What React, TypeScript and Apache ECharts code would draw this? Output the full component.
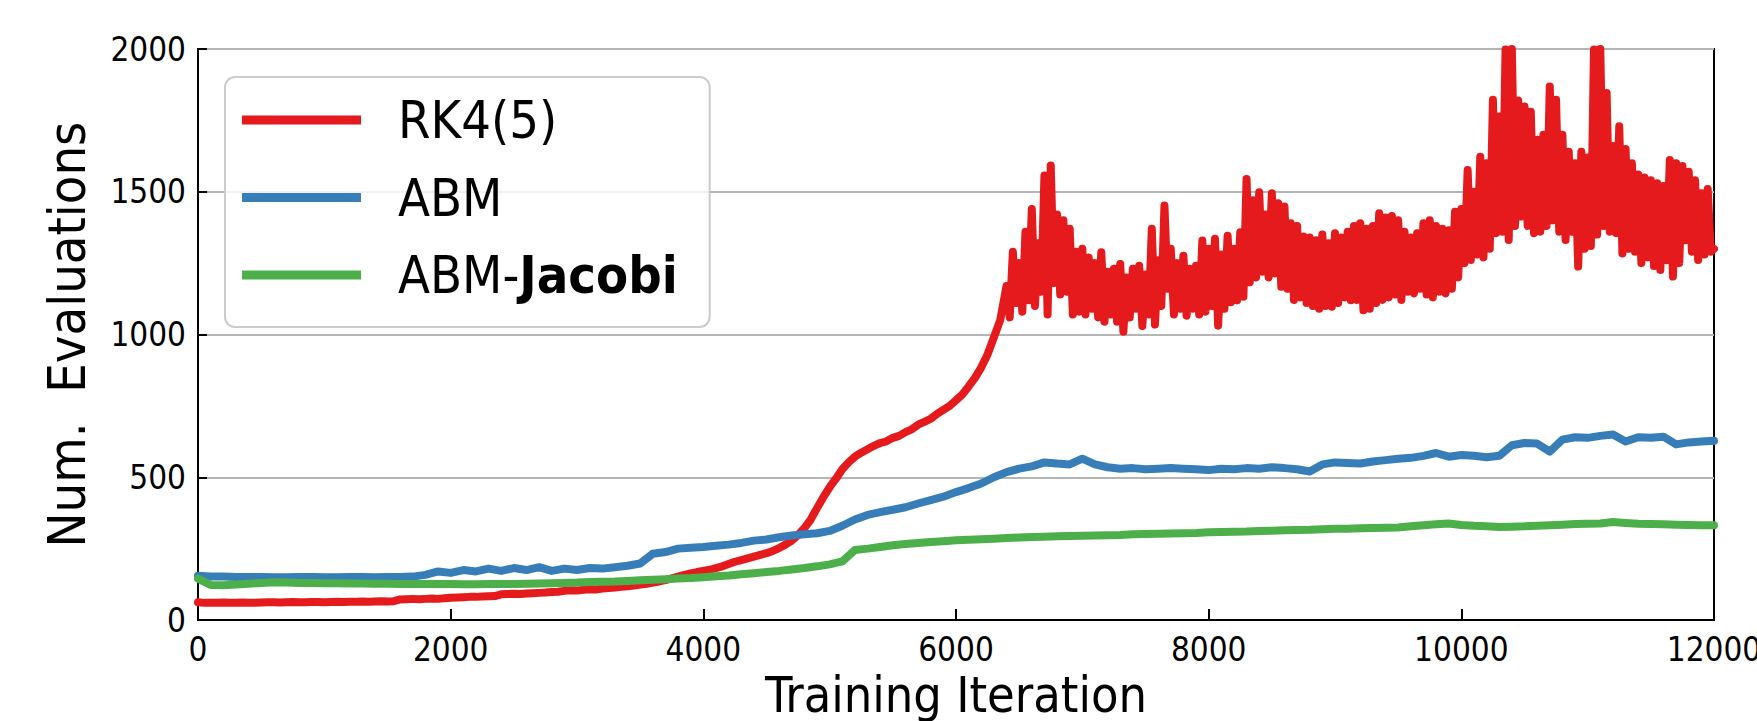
import React, { useEffect, useRef } from 'react';
import * as echarts from 'echarts';

// sampling steps (training iterations between consecutive readings)
const RED_SMOOTH_STEP = 50;     // RK4(5) from 0 to 6350
const RED_NOISY_START = 6400;   // RK4(5) noisy part starts here
const RED_NOISY_STEP = 25;      // RK4(5) from 6400 to 12000
const STEP = 100;               // ABM and ABM-Jacobi

const seriesNames = ['RK4(5)', 'ABM', 'ABM-Jacobi'];
const seriesColors = ['#e41a1c', '#377eb8', '#4daf4a'];

// RK4(5), every 50 iterations, 0..6350
const redSmoothValues = [
  62, 60, 60, 60, 61, 60, 60, 61, 60, 60, 61, 62, 62, 61, 62, 63, 62, 62, 63, 63, 62, 63, 64, 63, 64, 64, 65, 64, 65, 66, 65, 66,
  72, 73, 74, 73, 74, 75, 74, 76,
  78, 79, 80, 81, 81, 82, 83, 84,
  90, 91, 92, 91, 93, 94, 95, 96, 98, 99,
  102, 104, 103, 106, 108, 107, 110, 112, 114, 116, 118,
  121, 124, 127, 131, 135, 140, 146, 152, 158, 163, 168,
  172, 176, 182, 188, 196, 204, 210, 216, 222, 228,
  234, 242, 252, 264, 278, 298, 322, 352, 392, 430,
  465, 495, 528, 552, 572, 586, 598, 610, 620, 626,
  638, 645, 658, 668, 684, 694, 705, 722, 736, 750,
  770, 790, 818, 848, 885, 930, 990, 1050,
];

// RK4(5), every 25 iterations, 6400..12000 (alternating upper / lower edge of the noise)
const redNoisyValues = [
  1170, 1060, 1290, 1110, 1250, 1080, 1360, 1120, 1440, 1100,
  1320, 1150, 1557, 1070, 1592, 1180, 1420, 1140, 1400, 1150,
  1370, 1070, 1290, 1080, 1300, 1070, 1270, 1090, 1250, 1060,
  1288, 1045, 1220, 1070, 1230, 1045, 1247, 1010, 1200, 1060,
  1230, 1090, 1241, 1030, 1210, 1070, 1370, 1035, 1260, 1100,
  1452, 1160, 1300, 1070, 1250, 1090, 1276, 1066, 1230, 1090,
  1241, 1070, 1329, 1080, 1300, 1100, 1335, 1031, 1280, 1090,
  1346, 1113, 1300, 1120, 1358, 1132, 1545, 1183, 1470, 1200,
  1498, 1220, 1420, 1200, 1495, 1214, 1460, 1167, 1448, 1160,
  1390, 1121, 1380, 1130, 1343, 1110, 1340, 1100, 1330, 1090,
  1350, 1100, 1320, 1097, 1355, 1110, 1340, 1130, 1360, 1120,
  1380, 1121, 1390, 1085, 1370, 1090, 1380, 1110, 1425, 1121,
  1410, 1130, 1415, 1140, 1400, 1121, 1360, 1150, 1340, 1144,
  1355, 1160, 1390, 1140, 1400, 1130, 1380, 1150, 1370, 1144,
  1365, 1160, 1430, 1200, 1440, 1250, 1576, 1261, 1500, 1280,
  1623, 1270, 1600, 1300, 1822, 1355, 1764, 1360, 1998, 1331,
  2000, 1380, 1820, 1413, 1799, 1380, 1780, 1355, 1682, 1360,
  1700, 1380, 1869, 1400, 1822, 1360, 1700, 1331, 1640, 1360,
  1600, 1238, 1640, 1300, 1620, 1310, 1998, 1350, 2000, 1380,
  1846, 1360, 1660, 1355, 1729, 1284, 1650, 1300, 1600, 1290,
  1560, 1250, 1550, 1270, 1540, 1240, 1530, 1226, 1520, 1260,
  1611, 1203, 1600, 1250, 1590, 1330, 1570, 1290, 1540, 1261,
  1495, 1280, 1510, 1290,
  1300,
];

// ABM, every 100 iterations, 0..12000
const blueValues = [
  155, 152, 152, 151, 151, 151, 150, 150, 151, 151, 150, 150, 151, 151, 150, 151, 151, 152,
  158, 170, 165, 175, 170, 180, 172, 182, 175, 185, 172, 180, 175, 182, 180, 185, 190, 198,
  232, 238, 250, 253, 256, 260, 264, 270, 278, 282, 290, 296, 300, 304, 312,
  330, 352, 368, 378, 386, 395, 408, 420, 432, 448, 462, 478, 500, 518, 530,
  538, 552, 548, 545, 565, 545, 535, 530, 532, 528, 530, 532, 530, 528, 525,
  530, 528, 532, 530, 535, 532, 528, 520, 545, 552, 550, 548, 555, 560, 565,
  568, 575, 585, 572, 578, 575, 570, 575, 612, 620, 618, 590, 632, 640, 638,
  645, 650, 625, 640, 638, 642, 615, 622, 625, 628,
];

// ABM-Jacobi, every 100 iterations, 0..12000
const greenValues = [
  145, 123, 122, 124, 127, 130, 132, 131, 130, 130, 129, 129, 128, 128, 127, 127, 126, 126,
  126, 126, 126, 125, 125, 126, 126, 126, 127, 128, 129, 130, 131, 133, 134, 135, 137, 139,
  141, 143, 145, 147, 150, 153, 156, 160, 164, 168, 172, 177, 182, 188, 195,
  205, 245, 250, 256, 262, 266, 270, 273, 276, 279, 281, 283, 285, 287, 289,
  291, 292, 293, 294, 295, 296, 297, 298, 300, 301, 302, 303, 304, 305, 307,
  308, 309, 310, 312, 313, 314, 315, 316, 318, 320, 320, 321, 322, 323, 324,
  328, 332, 335, 338, 333, 330, 328, 326, 327, 328, 330, 332, 334, 336, 337,
  338, 343, 340, 337, 336, 335, 334, 333, 332, 332,
];

const X_MIN = 0;
const X_MAX = 12000;
const X_INTERVAL = 2000;
const Y_MIN = 0;
const Y_MAX = 2000;
const Y_INTERVAL = 500;

const xAxisTitle = 'Training Iteration';
const yAxisTitle = 'Num.  Evaluations';

const FONT = "'DejaVu Sans Condensed', 'Liberation Sans', sans-serif";

function toPairs(values: number[], step: number, start = 0) {
  return values.map((v, i) => [start + i * step, v]);
}

export default function App() {
  const ref = useRef<HTMLDivElement>(null);

  useEffect(() => {
    document.body.style.margin = '0';
    if (!ref.current) return;
    const chart = echarts.init(ref.current, undefined, { renderer: 'svg' });
    const redData = toPairs(redSmoothValues, RED_SMOOTH_STEP).concat(
      toPairs(redNoisyValues, RED_NOISY_STEP, RED_NOISY_START)
    );
    const allData = [redData, toPairs(blueValues, STEP), toPairs(greenValues, STEP)];
    chart.setOption({
      animation: false,
      backgroundColor: '#ffffff',
      grid: {
        left: 198,
        right: 43,
        top: 49,
        bottom: 101,
        outerBoundsMode: 'none',
        containLabel: false,
        show: true,
        borderColor: '#000',
        borderWidth: 2,
        backgroundColor: 'transparent',
      },
      legend: {
        orient: 'vertical',
        left: 225,
        top: 77,
        padding: [17, 32, 26, 17],
        itemGap: 25.5,
        itemWidth: 119,
        itemHeight: 9,
        icon: 'rect',
        backgroundColor: 'rgba(255,255,255,0.8)',
        borderColor: '#cccccc',
        borderWidth: 2,
        borderRadius: 10,
        data: seriesNames,
        formatter: (name: string) => {
          if (name === 'ABM-Jacobi') return '{n|ABM-}{b|Jacobi}';
          return '{n|' + name + '}';
        },
        textStyle: {
          padding: [0, 0, 0, 32],
          rich: {
            n: { fontSize: 52, lineHeight: 52, fontFamily: FONT, color: '#000' },
            b: { fontSize: 52, lineHeight: 52, fontFamily: FONT, fontWeight: 'bold', color: '#000' },
          },
        },
      },
      xAxis: {
        type: 'value',
        min: X_MIN,
        max: X_MAX,
        interval: X_INTERVAL,
        name: xAxisTitle,
        nameLocation: 'middle',
        nameGap: 50,
        nameMoveOverlap: false,
        nameTextStyle: { fontSize: 50, lineHeight: 50, fontFamily: FONT, color: '#000' },
        axisLine: { show: true, lineStyle: { color: '#000', width: 2 } },
        axisTick: { show: true, inside: true, length: 11, lineStyle: { color: '#000', width: 2 } },
        axisLabel: {
          fontSize: 33, lineHeight: 33, fontFamily: FONT, color: '#000', margin: 13,
          formatter: (v: number) => String(v),
        },
        splitLine: { show: false },
      },
      yAxis: {
        type: 'value',
        min: Y_MIN,
        max: Y_MAX,
        interval: Y_INTERVAL,
        name: yAxisTitle,
        nameLocation: 'middle',
        nameGap: 105,
        nameMoveOverlap: false,
        nameTextStyle: { fontSize: 52, lineHeight: 52, fontFamily: FONT, color: '#000' },
        axisLine: { show: true, lineStyle: { color: '#000', width: 2 } },
        axisTick: { show: true, inside: true, length: 9, lineStyle: { color: '#000', width: 2 } },
        axisLabel: {
          fontSize: 33, lineHeight: 33, fontFamily: FONT, color: '#000', margin: 12,
          formatter: (v: number) => String(v),
        },
        splitLine: { show: true, lineStyle: { color: '#b5b5b5', width: 2 } },
      },
      series: seriesNames.map((name, i) => ({
        name,
        type: 'line',
        data: allData[i],
        showSymbol: false,
        symbol: 'none',
        color: seriesColors[i],
        lineStyle: { color: seriesColors[i], width: 8, cap: 'round', join: 'round' },
        z: 2 + i,
        clip: true,
      })),
    });
    return () => chart.dispose();
  }, []);

  return <div ref={ref} style={{ width: 1757, height: 721 }} />;
}
